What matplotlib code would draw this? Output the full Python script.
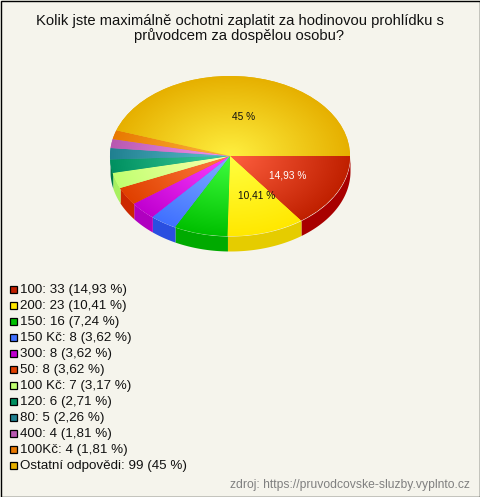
import numpy as np
import matplotlib
matplotlib.use("Agg")
import matplotlib.pyplot as plt
from matplotlib.colors import to_rgb
from matplotlib.patches import Rectangle

TITLE = "Kolik jste maximálně ochotni zaplatit za hodinovou prohlídku s\nprůvodcem za dospělou osobu?"
SOURCE = "zdroj: https://pruvodcovske-sluzby.vyplnto.cz"
categories = ["100", "200", "150", "150 Kč", "300", "50", "100 Kč", "120", "80", "400", "100Kč", "Ostatní odpovědi"]
counts = [33, 23, 16, 8, 8, 8, 7, 6, 5, 4, 4, 99]
percent_labels = ["14,93 %", "10,41 %", "7,24 %", "3,62 %", "3,62 %", "3,62 %", "3,17 %", "2,71 %", "2,26 %", "1,81 %", "1,81 %", "45 %"]
rim_colors = ["#C02000", "#FFE800", "#00C000", "#4070FF", "#C000D0", "#E04000",
              "#C0FF70", "#009060", "#208090", "#B858B0", "#E87800", "#E6B000"]
side_colors = ["#A80000", "#E5CC00", "#00AA00", "#2A4FE0", "#B000C0", "#CC2800",
               "#A8F060", "#007848", "#186878", "#A04898", "#D06800", "#D09C00"]
in_pie_labels = {0: ("white", 288, 175.5), 1: ("#111111", 257, 195.5), 11: ("#111111", 244, 117.5)}

W, H = 480, 497
BG = "#F5F4EC"
plt.rcParams["font.family"] = ["Liberation Sans", "DejaVu Sans"]
fig = plt.figure(figsize=(W / 100, H / 100), dpi=100, facecolor=BG)
page = fig.add_axes([0, 0, 1, 1])
page.set_xlim(0, W)
page.set_ylim(H, 0)
page.axis("off")
page.add_patch(Rectangle((0.5, 0.5), W - 1, H - 1, fill=False, ec="#000000", lw=1.0))

page.text(239.5, 28.5, TITLE, ha="center", va="center", fontsize=10.6, color="#111111", linespacing=1.08)

# pie: unit circle in an axes stretched to an ellipse
cx, cy, rx, ry, depth_px = 230, 156, 120, 80, 15
ax = fig.add_axes([(cx - rx) / W, 1 - (cy + ry) / H, 2 * rx / W, 2 * ry / H], facecolor="none")
wedges, _ = ax.pie(counts, colors=rim_colors, radius=1, startangle=0, counterclock=True,
                   wedgeprops={"linewidth": 0})
ax.set_aspect("auto")
ax.set_xlim(-1, 1)
ax.set_ylim(1, -1)
ax.axis("off")

# 3D side wall for the part of the rim that faces the viewer
shares = np.cumsum([0] + counts) / sum(counts) * 360
depth = depth_px / ry
for a0, a1, c in zip(shares[:-1], shares[1:], side_colors):
    a1 = min(a1, 180)
    if a0 >= 180:
        continue
    t = np.radians(np.linspace(a0, a1, 60))
    ax.fill_between(np.cos(t), np.sin(t), np.sin(t) + depth, color=c, lw=0, clip_on=False, zorder=0.5)

# radial shading clipped to each slice
n = 480
yy, xx = np.mgrid[-1:1:n * 1j, -1:1:n * 1j]
rr = np.clip(np.hypot(xx, yy), 0, 1)[..., None]
for w, c in zip(wedges, rim_colors):
    rim = np.array(to_rgb(c))
    centre = np.clip(rim + 0.25, 0, 1)
    img = centre * (1 - rr) + rim * rr
    im = ax.imshow(img, extent=(-1, 1, 1, -1), aspect="auto", interpolation="bilinear", zorder=1.5)
    im.set_clip_path(w)
ax.set_xlim(-1, 1)
ax.set_ylim(1, -1)

for i, (col, x, y) in in_pie_labels.items():
    page.text(x, y, percent_labels[i], ha="center", va="center", fontsize=7.3, color=col, zorder=5)
page.set_zorder(3)
page.patch.set_visible(False)

# legend
y0, step = 289.5, 16.0
for i, (cat, n_i, pct, c) in enumerate(zip(categories, counts, percent_labels, rim_colors)):
    y = y0 + i * step
    page.add_patch(Rectangle((9.5, y - 3.5), 7, 7, fc=c, ec="#000000", lw=0.9))
    page.text(20, y + 0.7, f"{cat}: {n_i} ({pct})", ha="left", va="center", fontsize=9.6, color="#111111")

page.text(470, 485, SOURCE, ha="right", va="center", fontsize=8.75, color="#808080")

fig.savefig("out.png", dpi=100, facecolor=BG)
